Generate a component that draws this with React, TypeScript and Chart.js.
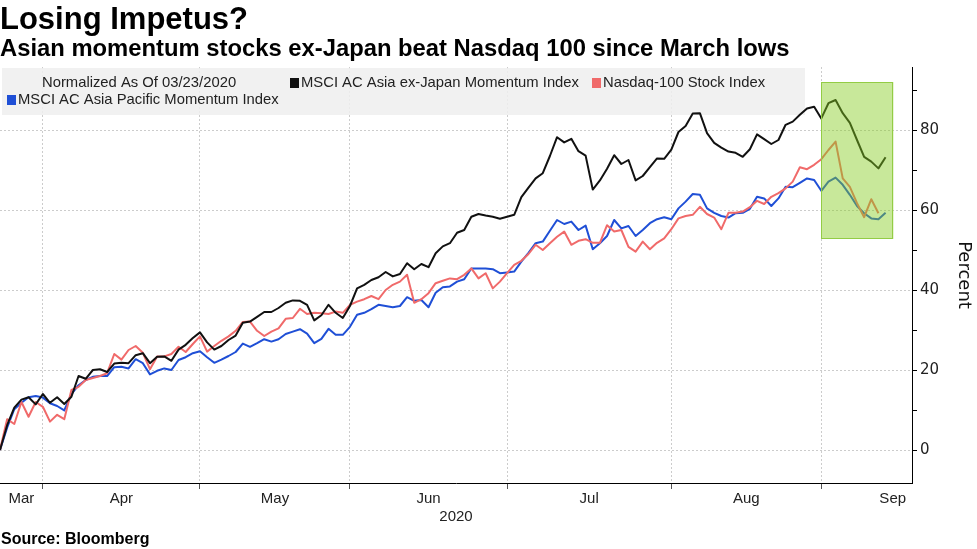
import { useEffect, useRef } from 'react';
import { Chart, registerables } from 'chart.js';

Chart.register(...registerables);

const TITLE = 'Losing Impetus?';
const SUBTITLE = 'Asian momentum stocks ex-Japan beat Nasdaq 100 since March lows';
const SOURCE = 'Source: Bloomberg';
const LEGEND_NOTE = 'Normalized As Of 03/23/2020';
const NAME_EXJAPAN = 'MSCI AC Asia ex-Japan Momentum Index';
const NAME_NASDAQ = 'Nasdaq-100 Stock Index';
const NAME_PACIFIC = 'MSCI AC Asia Pacific Momentum Index';
const Y_TITLE = 'Percent';
const YEAR_LABEL = '2020';

// first trading day of the series (business days from here on)
const START = [2020, 2, 23];

// % change since 03/23/2020, one value per business day
const asiaExJapan = [
  0, 6.2, 10.6, 12.6, 13.2, 11.4, 14, 11.8, 13.2, 11.5,
  13.3, 18.5, 17.8, 20, 20.2, 19.5, 21.6, 21.8, 21.7, 23.7,
  24.2, 21.7, 23.3, 23.4, 22.3, 25.1, 26.3, 28, 29.4, 26.9,
  25.1, 26, 27.5, 28.6, 31.8, 32.1, 33.3, 34.5, 34.5, 35.5,
  36.8, 37.4, 37.3, 36.3, 32.4, 33.7, 36.3, 34.3, 33, 36,
  40.4, 41.3, 42.5, 43.2, 44.5, 43.4, 44, 46.7, 45.2, 46.5,
  45.7, 49.2, 50.9, 51.7, 54.3, 55, 58.3, 59, 58.6, 58.3,
  57.8, 58.3, 58.8, 63.2, 65.6, 67.9, 69.2, 73.5, 78.2, 76.9,
  77.8, 74.7, 73.6, 65.1, 67.4, 70.3, 73.7, 71.5, 72.5, 67.4,
  68.5, 70.7, 72.9, 72.8, 75.1, 79.5, 81, 84.1, 84.2, 79.2,
  76.8, 75.6, 74.6, 74.3, 73.3, 75.2, 78.9, 77.7, 76.5, 77.5,
  81.3, 82.1, 83.8, 85.4, 85.8, 82.9, 86.7, 87.5, 84.2, 81.8,
  77.5, 73.3, 72.1, 70.4, 73.2,
];

const nasdaq100 = [
  0, 7.7, 6.5, 12, 8.3, 12, 10.8, 7.1, 8.8, 7.7,
  15, 15.8, 17.5, 18, 18.5, 19.2, 24, 22.6, 25, 26,
  24.3, 20.2, 23.4, 23.4, 24, 25.8, 24.5, 26.5, 28.4, 24.6,
  26, 27.3, 28.4, 29.8, 32, 32.1, 29.8, 28.5, 29.6, 30.4,
  32.8, 33, 35.3, 34, 34.3, 34.2, 34, 34.6, 34.3, 36.3,
  37.1, 37.7, 38.5, 37.7, 40, 41.3, 42.1, 43.8, 36.8, 37.7,
  39.2, 41.7, 42.3, 42.9, 42.7, 43.8, 45.4, 42.9, 44.2, 40.4,
  42.1, 44.2, 46.3, 47.3, 49, 51.3, 50, 51.7, 53.3, 54.6,
  51.3, 52.3, 52.7, 51.8, 51.8, 56.2, 54.6, 55, 50.8, 49.6,
  52.1, 50.2, 51.8, 52.9, 55.2, 57.9, 58.5, 58.8, 60.8, 59,
  58.1, 55.2, 59.3, 59.3, 59.6, 60.7, 62.3, 61.5, 63.3, 64.2,
  65.4, 67.1, 70.7, 70.2, 71.3, 72.7, 75, 77.1, 67.9, 65.8,
  61.7, 58.2, 62.7, 59.2, null,
];

const asiaPacific = [
  0, 5.6, 10.2, 11.8, 13.2, 13.5, 13.1, 11.7, 11, 9.9,
  14, 16.2, 17.5, 18.3, 18.5, 18.5, 20.7, 20.8, 20.4, 22.7,
  21.7, 18.9, 19.8, 20.4, 20, 22.5, 23.2, 24.2, 24.7, 23.2,
  21.8, 22.6, 23.5, 24.5, 26.6, 25.8, 26.7, 27.7, 27.1, 27.7,
  29, 29.6, 30.2, 29.1, 26.7, 27.8, 30.3, 28.8, 28.8, 30.8,
  33.8, 34.3, 35.2, 36.3, 36, 35.7, 36, 38.2, 37.3, 37.5,
  35.7, 39.3, 40.7, 40.9, 42.1, 42.7, 45.4, 45.4, 45.4, 45.2,
  44.2, 44.4, 44.6, 47.1, 49.3, 51.7, 52.1, 54.8, 57.5, 56.5,
  57.1, 55, 56.1, 50.2, 51.7, 53.5, 57.5, 55.4, 56, 53.5,
  55, 56.7, 57.7, 58.2, 57.7, 60.4, 62.1, 64, 63.8, 60.4,
  59.3, 58.5, 58.1, 59.2, 59.3, 60.3, 63.3, 62.9, 61, 62.9,
  65.8, 65.7, 66.8, 67.9, 67.5, 64.8, 67.1, 68.1, 66.3, 63.8,
  61, 59.2, 57.9, 57.7, 59.3,
];

const monthNames = ['Mar', 'Apr', 'May', 'Jun', 'Jul', 'Aug', 'Sep'];
// business-day index where each month label is centred
const monthLabelAt = [3, 17, 38.5, 60, 82.5, 104.5, 125];
const yTicks = [0, 10, 20, 30, 40, 50, 60, 70, 80, 90];

// highlighted window (business-day index / percent)
const highlightFrom = 115;
const highlightTo = 125.1;
const highlightTop = 92;
const highlightBottom = 52.75;

const X_MAX = 127.7;
const Y_MIN = -8.25;
const Y_MAX = 95.75;

const SANS = "'Liberation Sans', Arial, sans-serif";
const DEJAVU = "'DejaVu Sans', Verdana, sans-serif";

const COLOR_EXJAPAN = '#111111';
const COLOR_NASDAQ = '#f06a6a';
const COLOR_PACIFIC = '#1f4fd6';

function tradingDays(count: number): Date[] {
  const out: Date[] = [];
  const d = new Date(START[0], START[1], START[2]);
  while (out.length < count) {
    const wd = d.getDay();
    if (wd !== 0 && wd !== 6) out.push(new Date(d.getTime()));
    d.setDate(d.getDate() + 1);
  }
  return out;
}

const decorPlugin = {
  id: 'decor',
  beforeDatasetsDraw(chart: any) {
    const { ctx } = chart;
    ctx.save();
    // legend box (lines are drawn over it)
    ctx.fillStyle = 'rgba(238, 238, 238, 0.85)';
    ctx.fillRect(2, 68, 803, 47);
    ctx.textBaseline = 'middle';
    ctx.textAlign = 'left';
    ctx.font = `14.8px ${SANS}`;
    ctx.fillStyle = '#222';
    ctx.fillText(LEGEND_NOTE, 42, 83);
    const item = (color: string, label: string, x: number, y: number) => {
      ctx.fillStyle = color;
      ctx.fillRect(x, y - 5, 9, 10);
      ctx.fillStyle = '#222';
      ctx.fillText(label, x + 11, y);
    };
    item(COLOR_EXJAPAN, NAME_EXJAPAN, 290, 83);
    item(COLOR_NASDAQ, NAME_NASDAQ, 592, 83);
    item(COLOR_PACIFIC, NAME_PACIFIC, 7, 100);
    ctx.restore();
  },
  afterDatasetsDraw(chart: any) {
    const { ctx } = chart;
    const xs = chart.scales.x;
    const ys = chart.scales.y;
    const x1 = xs.getPixelForValue(highlightFrom);
    const x2 = xs.getPixelForValue(highlightTo);
    const y1 = ys.getPixelForValue(highlightTop);
    const y2 = ys.getPixelForValue(highlightBottom);
    ctx.save();
    ctx.fillStyle = 'rgba(133, 204, 31, 0.45)';
    ctx.fillRect(x1, y1, x2 - x1, y2 - y1);
    ctx.strokeStyle = '#93cc45';
    ctx.lineWidth = 1;
    ctx.strokeRect(Math.round(x1) + 0.5, Math.round(y1) + 0.5, Math.round(x2 - x1) - 1, Math.round(y2 - y1) - 1);
    ctx.restore();
  },
  afterDraw(chart: any) {
    const { ctx } = chart;
    ctx.save();
    ctx.textAlign = 'left';
    ctx.textBaseline = 'alphabetic';
    ctx.fillStyle = '#000';
    ctx.font = `bold 31px ${SANS}`;
    ctx.fillText(TITLE, 0, 29);
    ctx.font = `bold 23.8px ${SANS}`;
    ctx.fillText(SUBTITLE, 0, 56);
    ctx.font = `bold 16px ${SANS}`;
    ctx.fillText(SOURCE, 1, 544);
    ctx.restore();
  },
};

export default function App() {
  const ref = useRef<HTMLCanvasElement>(null);

  useEffect(() => {
    const canvas = ref.current;
    if (!canvas) return;
    const days = tradingDays(asiaExJapan.length);
    const monthEnds: number[] = [];
    for (let i = 0; i < days.length - 1; i++) {
      if (days[i].getMonth() !== days[i + 1].getMonth()) monthEnds.push(i);
    }
    const isEnd = (v: any) => monthEnds.indexOf(v) >= 0;
    const toXY = (arr: (number | null)[]) => arr.map((v, i) => ({ x: i, y: v }));

    const lineStyle = { pointRadius: 0, borderWidth: 2, tension: 0, fill: false, borderJoinStyle: 'round' as const };

    const chart = new Chart(canvas, {
      type: 'line',
      data: {
        datasets: [
          { label: NAME_EXJAPAN, data: toXY(asiaExJapan), borderColor: COLOR_EXJAPAN, backgroundColor: COLOR_EXJAPAN, ...lineStyle },
          { label: NAME_NASDAQ, data: toXY(nasdaq100), borderColor: COLOR_NASDAQ, backgroundColor: COLOR_NASDAQ, ...lineStyle },
          { label: NAME_PACIFIC, data: toXY(asiaPacific), borderColor: COLOR_PACIFIC, backgroundColor: COLOR_PACIFIC, ...lineStyle },
        ],
      },
      options: {
        responsive: false,
        animation: false,
        layout: { padding: { top: 67, left: 0, right: 0, bottom: 20 } },
        plugins: {
          legend: { display: false },
          title: { display: false },
          tooltip: { enabled: false },
        },
        scales: {
          x: {
            type: 'linear',
            position: 'bottom',
            min: 0,
            max: X_MAX,
            afterBuildTicks: (s: any) => {
              const vals = [...monthEnds, ...monthLabelAt].sort((a, b) => a - b);
              s.ticks = vals.map((v) => ({ value: v }));
            },
            afterFit: (s: any) => {
              s.height = 46;
            },
            ticks: {
              autoSkip: false,
              maxRotation: 0,
              minRotation: 0,
              padding: 1,
              color: '#222',
              font: { family: SANS, size: 15 },
              callback: (v: any) => {
                const k = monthLabelAt.indexOf(v);
                return k >= 0 ? monthNames[k] : '';
              },
            },
            grid: {
              color: (c: any) => (c.tick && isEnd(c.tick.value) ? '#cccccc' : 'rgba(0,0,0,0)'),
              tickColor: (c: any) => (c.tick && isEnd(c.tick.value) ? '#555555' : 'rgba(0,0,0,0)'),
              tickLength: 6,
              tickBorderDash: [],
              lineWidth: 1,
            },
            border: { display: true, color: '#000', width: 1, dash: [2, 2] },
            title: {
              display: true,
              text: YEAR_LABEL,
              color: '#222',
              font: { family: SANS, size: 15 },
              padding: { top: 0, bottom: 3 },
            },
          },
          y: {
            type: 'linear',
            position: 'right',
            min: Y_MIN,
            max: Y_MAX,
            afterBuildTicks: (s: any) => {
              s.ticks = yTicks.map((v) => ({ value: v }));
            },
            afterFit: (s: any) => {
              s.width = 65;
            },
            ticks: {
              color: '#222',
              padding: 3,
              font: { family: DEJAVU, size: 15 },
              callback: (v: any) => (v % 20 === 0 ? String(v) : ''),
            },
            grid: {
              color: (c: any) => (c.tick && c.tick.value % 20 === 0 ? '#cccccc' : 'rgba(0,0,0,0)'),
              tickColor: '#000',
              tickLength: 5,
              tickBorderDash: [],
              lineWidth: 1,
            },
            border: { display: true, color: '#000', width: 1, dash: [2, 2] },
            title: {
              display: true,
              text: Y_TITLE,
              color: '#111',
              font: { family: DEJAVU, size: 18 },
              padding: { top: 3, bottom: 0 },
            },
          },
        },
      } as any,
      plugins: [decorPlugin],
    });
    return () => chart.destroy();
  }, []);

  return (
    <div style={{ position: 'fixed', left: 0, top: 0, width: 977, height: 549, background: '#fff' }}>
      <canvas ref={ref} width={977} height={549} style={{ width: 977, height: 549, display: 'block' }} />
    </div>
  );
}
